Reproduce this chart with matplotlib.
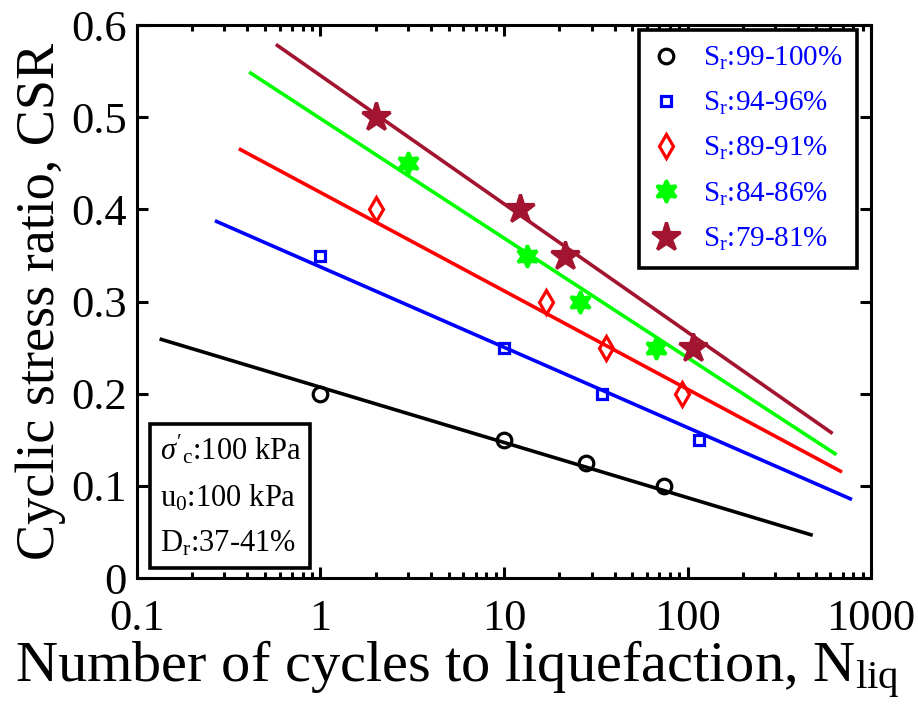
import matplotlib
matplotlib.use('Agg')
import matplotlib.pyplot as plt
import numpy as np

plt.rcParams['font.family'] = ['Liberation Serif', 'DejaVu Serif']
plt.rcParams['mathtext.fontset'] = 'custom'
plt.rcParams['mathtext.rm'] = 'Liberation Serif'
plt.rcParams['mathtext.it'] = 'Liberation Serif:italic'

# test data: number of cycles to liquefaction and CSR per saturation group
labels = ['99-100%', '94-96%', '89-91%', '84-86%', '79-81%']
n_sr99 = [1, 10, 28, 74]
csr_sr99 = [0.2, 0.15, 0.125, 0.1]
n_sr95 = [1, 10, 34, 115]
csr_sr95 = [0.35, 0.25, 0.2, 0.15]
n_sr90 = [2, 17, 36, 93]
csr_sr90 = [0.4, 0.3, 0.25, 0.2]
n_sr85 = [3, 13.3, 26, 67]
csr_sr85 = [0.45, 0.35, 0.3, 0.25]
n_sr80 = [2, 12.3, 21.5, 107]
csr_sr80 = [0.5, 0.4, 0.35, 0.25]

# end points of the fitted trend lines
fit_n = [[0.136, 470], [0.272, 770], [0.367, 680], [0.417, 635], [0.583, 605]]
fit_csr = [[0.259, 0.047], [0.387, 0.086], [0.465, 0.116], [0.548, 0.135], [0.578, 0.158]]

colors = ['black', 'blue', 'red', '#00ff00', '#a2142f']
markers = ['o', 's', 'd', (6, 1, 0), '*']
msizes = [10.5, 7, 12.5, 16, 21]
filled = [False, False, False, True, True]

fig = plt.figure(figsize=(9.18, 7.19), dpi=100)
ax = fig.add_axes([0.149, 0.196, 0.8, 0.769])

n_all = [n_sr99, n_sr95, n_sr90, n_sr85, n_sr80]
csr_all = [csr_sr99, csr_sr95, csr_sr90, csr_sr85, csr_sr80]

handles = []
for i in range(5):
    ax.plot(fit_n[i], fit_csr[i], color=colors[i], lw=2.6, zorder=2)
for i in range(5):
    fc = colors[i] if filled[i] else 'none'
    h, = ax.plot(n_all[i], csr_all[i], linestyle='none', marker=markers[i],
                 ms=msizes[i], mfc=fc, mec=colors[i], mew=2.3, zorder=3,
                 label=r'S$_\mathregular{r}$:' + labels[i])
    handles.append(h)

ax.set_xscale('log')
ax.set_xlim(0.1, 1000)
ax.set_ylim(0, 0.6)
ax.set_xticks([0.1, 1, 10, 100, 1000])
ax.set_xticklabels(['0.1', '1', '10', '100', '1000'])
ax.set_yticks([0, 0.1, 0.2, 0.3, 0.4, 0.5, 0.6])
ax.set_yticklabels(['0', '0.1', '0.2', '0.3', '0.4', '0.5', '0.6'])
ax.tick_params(which='both', direction='in', top=True, right=True, width=2.2)
ax.tick_params(which='major', length=8, labelsize=32)
ax.tick_params(axis='x', which='major', pad=15)
ax.tick_params(axis='y', which='major', pad=7)
ax.tick_params(which='minor', length=4)
for s in ax.spines.values():
    s.set_linewidth(2.2)

ax.set_xlabel(r'Number of cycles to liquefaction, N$_\mathregular{liq}$', fontsize=42, labelpad=0)
ax.xaxis.set_label_coords(0.436, -0.11, transform=ax.transAxes)
ax.xaxis.label.set_va('top')
ax.set_ylabel('Cyclic stress ratio, CSR', fontsize=39, labelpad=4)

leg = ax.legend(handles=handles, loc='upper right', bbox_to_anchor=(0.981, 0.991),
                borderaxespad=0, fontsize=21, labelcolor='blue', fancybox=False,
                edgecolor='black', framealpha=1, handlelength=0.9, handletextpad=0.8,
                labelspacing=0.62, borderpad=0.5)
leg.get_frame().set_linewidth(2.6)

ax.text(0.031, 0.035, "$\\sigma'_\\mathregular{c}$:100 kPa\nu$_\\mathregular{0}$:100 kPa\nD$_\\mathregular{r}$:37-41%",
        transform=ax.transAxes, fontsize=22, ha='left', va='bottom', linespacing=1.7,
        bbox=dict(boxstyle='square,pad=0.3', fc='white', ec='black', lw=2.6))

fig.savefig('out.png', dpi=100)
